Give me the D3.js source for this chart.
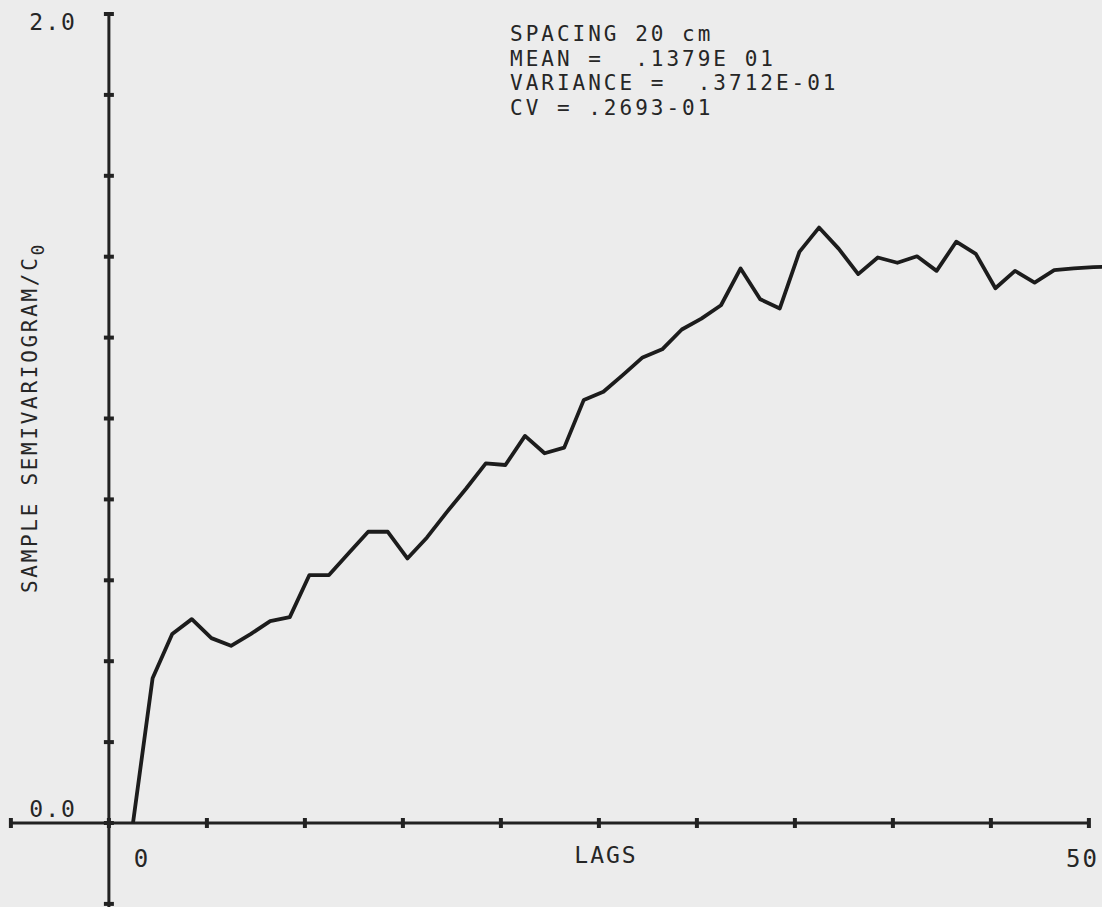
<!DOCTYPE html>
<html>
<head>
<meta charset="utf-8">
<script src="https://cdn.jsdelivr.net/npm/d3@7"></script>
<style>
	body { margin: 0; background: #ececec; }
	svg { display: block; }
	text { font-family: "DejaVu Sans Mono", monospace; fill: #262626; }
</style>
</head>
<body>
<div id="chart"></div>
<script>

// sample semivariogram / C0, one value per lag (lag 0 .. 50)
var lags = d3.range(0, 51);
var gamma = [0.000, 0.358, 0.467, 0.504, 0.457, 0.438, 0.467, 0.499, 0.509, 0.613,
             0.613, 0.667, 0.720, 0.720, 0.654, 0.706, 0.768, 0.827, 0.889, 0.885,
             0.957, 0.914, 0.928, 1.046, 1.066, 1.108, 1.151, 1.171, 1.220, 1.247,
             1.280, 1.371, 1.295, 1.272, 1.412, 1.472, 1.420, 1.357, 1.398, 1.385,
             1.401, 1.365, 1.437, 1.407, 1.322, 1.365, 1.336, 1.367, 1.371, 1.374,
             1.376];

var yTicks = [-0.2, 0.0, 0.2, 0.4, 0.6, 0.8, 1.0, 1.2, 1.4, 1.6, 1.8, 2.0];
var yTickLabels = [{v: 0.0, t: "0.0"}, {v: 2.0, t: "2.0"}];
var xTickLabels = [{v: 0, t: "0"}, {v: 50, t: "50"}];
var notes = ["SPACING 20 cm", "MEAN =  .1379E 01", "VARIANCE =  .3712E-01", "CV = .2693-01"];

var width = 1102, height = 907;

var svg = d3.select("#chart").append("svg")
	.attr("width", width)
	.attr("height", height);

var x = d3.scaleLinear().domain([0, 50]).range([133, 1113]);
var y = d3.scaleLinear().domain([0, 2]).range([823, 14]);

// the plotter put its axis a little left of lag 0
var axisLag = -1.23;
var xTicks = d3.range(-1, 11).map(function(k) { return axisLag + 5 * k; });
var x0 = x(axisLag);

var ink = "#222";

// x axis
svg.append("line")
	.attr("x1", x(xTicks[0])).attr("x2", x(xTicks[xTicks.length - 1]))
	.attr("y1", y(0)).attr("y2", y(0))
	.attr("stroke", ink).attr("stroke-width", 3);

svg.selectAll(".xtick")
	.data(xTicks)
.enter().append("line")
	.attr("class", "xtick")
	.attr("x1", function(d) { return x(d); })
	.attr("x2", function(d) { return x(d); })
	.attr("y1", y(0) - 5).attr("y2", y(0) + 5)
	.attr("stroke", ink).attr("stroke-width", 4);

// y axis
svg.append("line")
	.attr("x1", x0).attr("x2", x0)
	.attr("y1", y(2)).attr("y2", height)
	.attr("stroke", ink).attr("stroke-width", 3);

svg.selectAll(".ytick")
	.data(yTicks)
.enter().append("line")
	.attr("class", "ytick")
	.attr("x1", x0 - 5).attr("x2", x0 + 5)
	.attr("y1", function(d) { return y(d); })
	.attr("y2", function(d) { return y(d); })
	.attr("stroke", ink).attr("stroke-width", 4);

// tick labels
svg.selectAll(".ylab")
	.data(yTickLabels)
.enter().append("text")
	.attr("class", "ylab")
	.attr("x", x0 - 32)
	.attr("y", function(d) { return y(d.v) + (d.v == 0 ? -6 : 16); })
	.attr("text-anchor", "end")
	.style("font-size", "23px")
	.style("letter-spacing", "2px")
	.text(function(d) { return d.t; });

svg.selectAll(".xlab")
	.data(xTickLabels)
.enter().append("text")
	.attr("class", "xlab")
	.attr("x", function(d) { return d.v == 0 ? x(d.v) + 9 : x(d.v) - 14; })
	.attr("y", y(0) + 44)
	.attr("text-anchor", function(d) { return d.v == 0 ? "middle" : "end"; })
	.style("font-size", "24px")
	.style("letter-spacing", "2px")
	.text(function(d) { return d.t; });

svg.append("text")
	.attr("x", 606)
	.attr("y", y(0) + 40)
	.attr("text-anchor", "middle")
	.style("font-size", "23px")
	.style("letter-spacing", "2px")
	.text("LAGS");

var ylab = svg.append("text")
	.attr("transform", "translate(37," + 593 + ") rotate(-90)")
	.style("font-size", "21px")
	.style("letter-spacing", "2.7px");
ylab.append("tspan").text("SAMPLE SEMIVARIOGRAM/C");
ylab.append("tspan").attr("dy", 7).style("font-size", "18px").text("0");

// notes block
svg.selectAll(".note")
	.data(notes)
.enter().append("text")
	.attr("class", "note")
	.attr("x", 510)
	.attr("y", function(d, i) { return 41 + i * 24.5; })
	.style("font-size", "21px")
	.style("letter-spacing", "3px")
	.style("white-space", "pre")
	.attr("xml:space", "preserve")
	.text(function(d) { return d; });

// semivariogram curve
var line = d3.line()
	.x(function(d, i) { return x(lags[i]); })
	.y(function(d) { return y(d); });

svg.append("path")
	.datum(gamma)
	.attr("d", line)
	.attr("fill", "none")
	.attr("stroke", "#1c1c1c")
	.attr("stroke-width", 3.8)
	.attr("stroke-linejoin", "round");

</script>
</body>
</html>
